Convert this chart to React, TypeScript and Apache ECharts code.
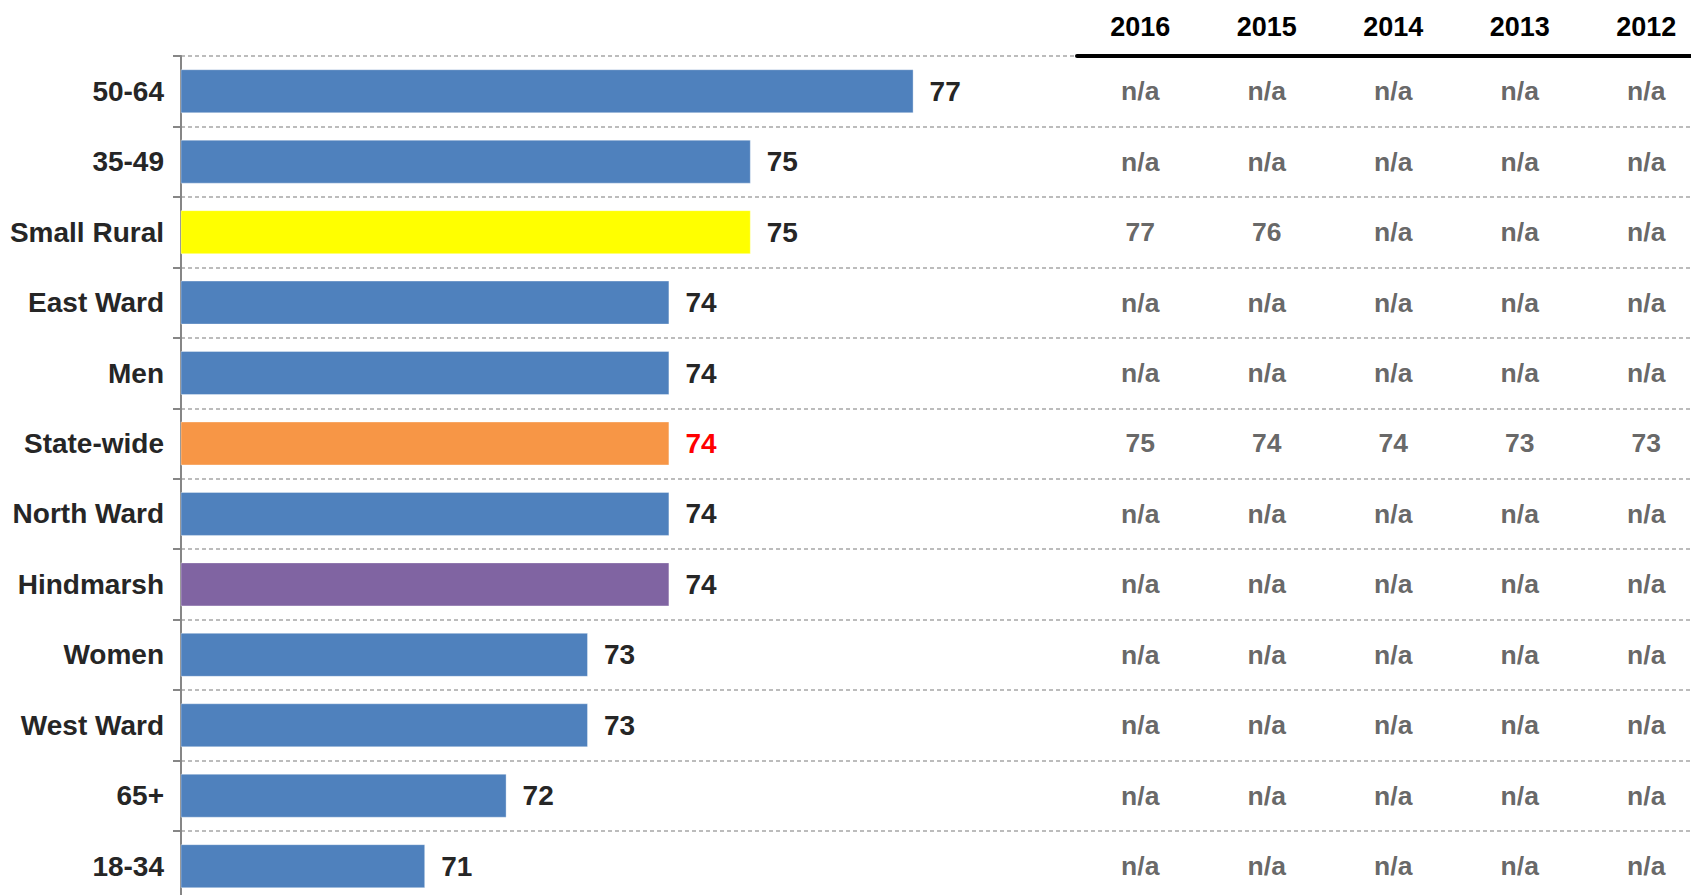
import React, { useEffect, useRef } from "react";
import * as echarts from "echarts";

const categories = [
  "50-64",
  "35-49",
  "Small Rural",
  "East Ward",
  "Men",
  "State-wide",
  "North Ward",
  "Hindmarsh",
  "Women",
  "West Ward",
  "65+",
  "18-34",
];
const scores2016 = [77, 75, 75, 74, 74, 74, 74, 74, 73, 73, 72, 71];

const years = ["2016", "2015", "2014", "2013", "2012"];
const hist2016 = ["n/a", "n/a", "77", "n/a", "n/a", "75", "n/a", "n/a", "n/a", "n/a", "n/a", "n/a"];
const hist2015 = ["n/a", "n/a", "76", "n/a", "n/a", "74", "n/a", "n/a", "n/a", "n/a", "n/a", "n/a"];
const hist2014 = ["n/a", "n/a", "n/a", "n/a", "n/a", "74", "n/a", "n/a", "n/a", "n/a", "n/a", "n/a"];
const hist2013 = ["n/a", "n/a", "n/a", "n/a", "n/a", "73", "n/a", "n/a", "n/a", "n/a", "n/a", "n/a"];
const hist2012 = ["n/a", "n/a", "n/a", "n/a", "n/a", "73", "n/a", "n/a", "n/a", "n/a", "n/a", "n/a"];
const historyColumns = [hist2016, hist2015, hist2014, hist2013, hist2012];

const BLUE = "#4F81BD";
const specialColors: Record<string, string> = {
  "Small Rural": "#FFFF00",
  "State-wide": "#F79646",
  Hindmarsh: "#8064A2",
};

const FONT = "'Liberation Sans', Arial, sans-serif";

export default function App() {
  const ref = useRef<HTMLDivElement>(null);
  useEffect(() => {
    if (!ref.current) return;
    const chart = echarts.init(ref.current, undefined, { renderer: "svg" });

    const rowH = 70.45;
    const gridTop = 56;
    const gridH = rowH * categories.length;
    const left = 181;
    const unit = 81.4;
    const width = 1510;
    const xMin = 68;
    const xMax = xMin + width / unit;

    const barData = scores2016.map((v, i) => {
      const c = categories[i];
      return {
        value: v,
        itemStyle: { color: specialColors[c] || BLUE },
        label: c === "State-wide" ? { color: "#FF0000" } : undefined,
      };
    });

    const tableData: any[] = [];
    categories.forEach((c, i) => {
      years.forEach((y, j) => {
        tableData.push([y, c, historyColumns[j][i]]);
      });
    });

    chart.setOption({
      animation: false,
      grid: [
        { left, top: gridTop, width, height: gridH },
        { left: 1077, top: gridTop, width: 632.5, height: gridH },
      ],
      xAxis: [
        {
          type: "value",
          gridIndex: 0,
          min: xMin,
          max: xMax,
          show: false,
        },
        {
          type: "category",
          gridIndex: 1,
          position: "top",
          data: years,
          axisLine: { show: true, lineStyle: { color: "#000000", width: 4 } },
          axisTick: { show: false },
          splitLine: { show: false },
          axisLabel: {
            fontFamily: FONT,
            fontWeight: "bold",
            fontSize: 27,
            color: "#000000",
            margin: 16,
          },
        },
      ],
      yAxis: [
        {
          type: "category",
          gridIndex: 0,
          inverse: true,
          data: categories,
          axisLine: { show: true, lineStyle: { color: "#868686", width: 2 } },
          axisTick: { show: true, length: 8, lineStyle: { color: "#868686", width: 2 } },
          splitLine: {
            show: true,
            lineStyle: { color: "#A6A6A6", width: 1.5, type: [4, 3] },
          },
          axisLabel: {
            fontFamily: FONT,
            fontWeight: "bold",
            fontSize: 28,
            color: "#262626",
            margin: 17,
          },
        },
        {
          type: "category",
          gridIndex: 1,
          inverse: true,
          data: categories,
          show: false,
        },
      ],
      series: [
        {
          type: "bar",
          xAxisIndex: 0,
          yAxisIndex: 0,
          data: barData,
          barWidth: 44,
          itemStyle: { borderColor: "rgba(255,255,255,0.35)", borderWidth: 1 },
          label: {
            show: true,
            position: "right",
            distance: 16,
            fontFamily: FONT,
            fontWeight: "bold",
            fontSize: 28,
            color: "#262626",
          },
        },
        {
          type: "scatter",
          xAxisIndex: 1,
          yAxisIndex: 1,
          data: tableData,
          symbolSize: 1,
          itemStyle: { color: "transparent" },
          label: {
            show: true,
            position: "inside",
            formatter: (p: any) => p.value[2],
            fontFamily: FONT,
            fontWeight: "bold",
            fontSize: 26.5,
            color: "#404040",
          },
        },
      ],
    });
    return () => chart.dispose();
  }, []);
  return (
    <div
      style={{
        position: "absolute",
        left: 0,
        top: 0,
        width: 1691,
        height: 895,
        overflow: "hidden",
      }}
    >
      <div ref={ref} style={{ width: 1720, height: 910 }} />
    </div>
  );
}
